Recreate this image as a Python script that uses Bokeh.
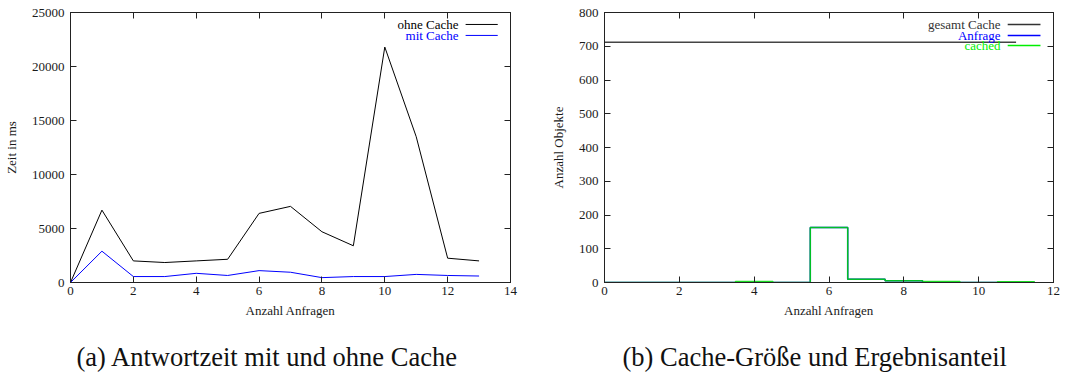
from bokeh.plotting import figure
from bokeh.layouts import row
from bokeh.models import Range1d, LinearAxis, FixedTicker, Label, Arrow, Title
from bokeh.embed import file_html
from bokeh.resources import INLINE

# ---------------- data ----------------
# (a) response time with and without cache
requests_a = [0, 1, 2, 3, 4, 5, 6, 7, 8, 9, 10, 11, 12, 13]
ohne_cache = [0, 6700, 2000, 1850, 2000, 2150, 6400, 7050, 4700, 3400, 21800, 13500, 2250, 2000]
mit_cache = [0, 2900, 550, 550, 850, 650, 1100, 950, 450, 550, 550, 750, 650, 600]

# (b) cache size and result share
requests_b = [0, 1, 2, 3, 4, 5, 6, 7, 8, 9, 10, 11]
gesamt_cache = [712, 712, 712, 712, 712, 712, 712, 712, 712, 712, 712, 712]
anfrage = [0, 0, 0, 0, 0, 0, 163, 10, 5, 0, 0, 0]
cached = [0, 0, 0, 0, 3, 0, 163, 10, 5, 3, 0, 2]

x_ticks_a = [0, 2, 4, 6, 8, 10, 12, 14]
y_ticks_a = [0, 5000, 10000, 15000, 20000, 25000]
x_ticks_b = [0, 2, 4, 6, 8, 10, 12]
y_ticks_b = [0, 100, 200, 300, 400, 500, 600, 700, 800]

FONT = "Liberation Serif"
AX = "#222222"


def histeps(xs, ys):
    px, py = [], []
    for x, y in zip(xs, ys):
        px += [x - 0.5, x + 0.5]
        py += [y, y]
    return px, py


def style_axis(ax, ticks, show_labels=True):
    ax.ticker = FixedTicker(ticks=ticks, minor_ticks=[])
    ax.major_tick_in = 6
    ax.major_tick_out = 0
    ax.minor_tick_in = 0
    ax.minor_tick_out = 0
    ax.axis_line_color = AX
    ax.major_tick_line_color = AX
    ax.major_label_text_font = FONT
    ax.axis_label_text_font = FONT
    ax.axis_label_text_font_style = "normal"
    ax.axis_label_text_font_size = "13px"
    ax.axis_label_text_color = "#1a1a1a"
    ax.major_label_text_font_size = "13px"
    if show_labels:
        ax.major_label_text_color = "#1a1a1a"
    else:
        ax.major_label_text_color = None
        ax.major_label_standoff = 0


def make_fig(width, xr, yr, xt, yt, bl, br, xlabel, ylabel, caption, cap_off):
    p = figure(width=width, height=391, x_range=Range1d(*xr), y_range=Range1d(*yr),
               output_backend="svg", toolbar_location=None,
               min_border_left=bl, min_border_right=br, min_border_top=12,
               min_border_bottom=108)
    p.xgrid.visible = False
    p.ygrid.visible = False
    p.outline_line_color = AX
    style_axis(p.xaxis[0], xt)
    style_axis(p.yaxis[0], yt)
    p.xaxis[0].major_label_standoff = 4
    p.xaxis[0].axis_label_standoff = 5
    p.yaxis[0].major_label_standoff = 6
    p.yaxis[0].axis_label_standoff = 10
    p.xaxis[0].axis_label = xlabel
    p.yaxis[0].axis_label = ylabel
    top = LinearAxis()
    style_axis(top, xt, show_labels=False)
    right = LinearAxis()
    style_axis(right, yt, show_labels=False)
    p.add_layout(top, "above")
    p.add_layout(right, "right")
    p.add_layout(Title(text=caption, align="left", offset=cap_off, standoff=39,
                       text_font=FONT, text_font_size="26.5px", text_font_style="normal",
                       text_color="#111111"), "below")
    return p


def legend(p, entries):
    x0, x1 = p.x_range.start, p.x_range.end
    y0, y1 = p.y_range.start, p.y_range.end
    tx = x0 + 0.882 * (x1 - x0)
    lx0 = x0 + 0.898 * (x1 - x0)
    lx1 = x0 + 0.971 * (x1 - x0)
    rows = [0.0443, 0.0849, 0.122]
    for (label, color, lw), fy in zip(entries, rows):
        y = y1 - fy * (y1 - y0)
        p.add_layout(Label(x=tx, y=y, text=label, text_align="right", text_baseline="middle",
                           text_font=FONT, text_font_size="13px", text_color=color))
        p.add_layout(Arrow(start=None, end=None, x_start=lx0, y_start=y, x_end=lx1, y_end=y,
                           line_color=color, line_width=lw))


# ---------------- (a) ----------------
pa = make_fig(537, (0, 14), (0, 25000), x_ticks_a, y_ticks_a, 69, 27,
              "Anzahl Anfragen", "Zeit in ms", "(a) Antwortzeit mit und ohne Cache", 6)
pa.line(requests_a, ohne_cache, line_color="black", line_width=1)
pa.line(requests_a, mit_cache, line_color="blue", line_width=1)
legend(pa, [("ohne Cache", "black", 1), ("mit Cache", "blue", 1)])

# ---------------- (b) ----------------
pb = make_fig(537, (0, 12), (0, 800), x_ticks_b, y_ticks_b, 67, 21,
              "Anzahl Anfragen", "Anzahl Objekte", "(b) Cache-Größe und Ergebnisanteil", 18)
pb.line(requests_b, gesamt_cache, line_color="#444444", line_width=1.5)
ax_, ay_ = histeps(requests_b, anfrage)
pb.line(ax_, ay_, line_color="blue", line_width=1.5)
cx_, cy_ = histeps(requests_b, cached)
pb.line(cx_, cy_, line_color="#00e000", line_width=1.5, line_alpha=0.85)
legend(pb, [("gesamt Cache", "#333333", 1.5), ("Anfrage", "blue", 1.5), ("cached", "#00ee00", 1.5)])

layout = row(pa, pb)
open("out.html", "w").write(file_html(layout, INLINE))
